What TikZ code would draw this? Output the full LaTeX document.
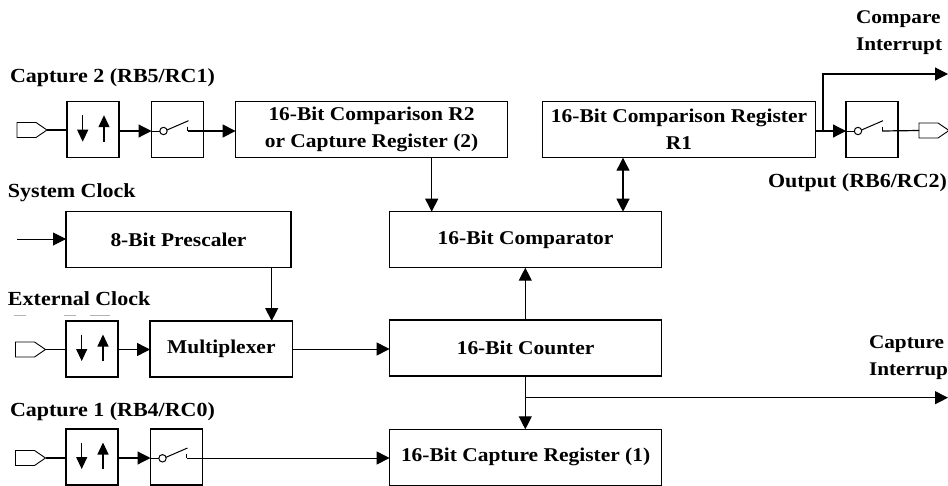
\documentclass[tikz,border=0pt]{standalone}
\usepackage{fontspec}
\setmainfont[FakeStretch=1.1]{Liberation Serif}
\usetikzlibrary{arrows.meta}
\tikzset{
  box/.style={draw=black,line width=1.4pt,inner sep=0pt,outer sep=0pt,align=center,
    font=\fontsize{19.5}{27}\selectfont\bfseries,minimum height=56pt},
  lbl/.style={inner sep=0pt,outer sep=0pt,anchor=base west,font=\fontsize{20}{27}\selectfont\bfseries},
  lblr/.style={lbl,font=\fontsize{19.3}{27}\selectfont\bfseries},
  wire/.style={line width=1.2pt,color=black},
  arr/.style={wire,-{Triangle[length=13pt,width=13pt]}},
  darr/.style={wire,{Triangle[length=13pt,width=13pt]}-{Triangle[length=13pt,width=13pt]}},
  port/.style={line width=0.9pt,draw=black,fill=white}
}
\newcommand{\edgearrows}[1]{%
  \draw[line width=1.2pt,-{Triangle[length=12pt,width=11pt]}] ([xshift=-10.3pt,yshift=14.5pt]#1.center) -- ([xshift=-10.3pt,yshift=-12pt]#1.center);
  \draw[line width=1.2pt,-{Triangle[length=12pt,width=11pt]}] ([xshift=11pt,yshift=-12pt]#1.center) -- ([xshift=11pt,yshift=14.5pt]#1.center);
}
\newcommand{\switchsym}[1]{%
  \draw[wire,line width=1pt] ([xshift=-10.5pt,yshift=-0.3pt]#1.center) -- ([xshift=11pt,yshift=9pt]#1.center);
  \draw[wire,line width=1pt] ([xshift=10pt,yshift=3pt]#1.center) -- ([xshift=10pt,yshift=-1.3pt]#1.center);
  \draw[wire,line width=1pt,fill=white] ([xshift=-14pt,yshift=-1.3pt]#1.center) circle[radius=3.7pt];
}
\newcommand{\portshape}[3]{% name, left x, center y
  \draw[port] (#2,#3-7.5) -- (#2+19,#3-7.5) -- (#2+30,#3) -- (#2+19,#3+7.5) -- (#2,#3+7.5) -- cycle;
  \coordinate (#1) at (#2,#3);
  \coordinate (#1t) at (#2+30,#3);
}
\begin{document}
\begin{tikzpicture}[x=1pt,y=-1pt]
\useasboundingbox (0,0) rectangle (948,485);
\clip (0,0) rectangle (948,485);
% texts
\node[lbl] at (10,82) {Capture 2 (RB5/RC1)};
\node[lbl] at (8,197) {System Clock};
\node[lbl] at (8,305) {External Clock};
\node[lbl] at (10,416) {Capture 1 (RB4/RC0)};
\node[lblr] at (856,23) {Compare};
\node[lblr] at (856,50) {Interrupt};
\node[lbl] at (768,187) {Output (RB6/RC2)};
\node[lblr] at (869,348) {Capture};
\node[lblr] at (869,375) {Interrup};
% boxes
\node[box,minimum width=52pt] (e1) at (93,129.7) {};
\node[box,minimum width=52pt] (s1) at (177.5,129.7) {};
\node[box,minimum width=272pt] (r2) at (371.6,129.7) {16-Bit Comparison R2\\or Capture Register (2)};
\node[box,minimum width=272.6pt] (r1) at (679,129.7) {16-Bit Comparison Register\\R1};
\node[box,minimum width=52pt] (s2) at (872,129.7) {};
\node[box,minimum width=225pt] (pre) at (178.5,239.7) {8-Bit Prescaler};
\node[box,minimum width=272pt] (cmp) at (525.6,239.7) {16-Bit Comparator};
\node[box,minimum width=52pt] (e2) at (92,349) {};
\node[box,minimum width=142.5pt] (mux) at (221.3,349) {Multiplexer};
\node[box,minimum width=272pt] (cnt) at (525.6,348) {16-Bit Counter};
\node[box,minimum width=52pt] (e3) at (92,457) {};
\node[box,minimum width=52pt] (s3) at (176.5,457) {};
\node[box,minimum width=272pt] (cap) at (525.6,457.3) {16-Bit Capture Register (1)};
% ports
\portshape{p1}{17}{130}
\portshape{p2}{15.5}{349.5}
\portshape{p3}{15.5}{458}
\portshape{p4}{919}{130.5}
\coordinate (sysin) at (17,239);
\coordinate (cmpout) at (948,74);
\coordinate (capout) at (948,397.7);
\coordinate (capbr) at (525.3,397.7);
\coordinate (cmpbr) at (823,131);
\coordinate (x431) at (431.7,0);
\coordinate (x623) at (623,0);
\coordinate (x272) at (271.7,0);
\coordinate (x525) at (525.3,0);
% symbols
\edgearrows{e1}\edgearrows{e2}\edgearrows{e3}
% connectors
\draw[wire] (p1t) -- (e1.west |- p1t);
\draw[arr] (e1.east |- 0,131) -- (s1.west |- 0,131);
\draw[wire,line width=1pt] (s1.west |- 0,131) -- ([xshift=-14pt,yshift=-1.3pt]s1.center);
\draw[arr] ([xshift=10pt,yshift=-1.3pt]s1.center) -- (r2.west |- 0,131);
\draw[wire] (r1.east |- cmpbr) -- (cmpbr);
\draw[arr] (cmpbr) -- (s2.west |- cmpbr);
\draw[wire,line width=1pt] (s2.west |- cmpbr) -- ([xshift=-14pt,yshift=-1.3pt]s2.center);
\draw[wire] ([xshift=10pt,yshift=-1.3pt]s2.center) -- (p4);
\draw[arr] (cmpbr) -- (cmpbr |- cmpout) -- (cmpout);
\draw[arr] (r2.south -| x431) -- (cmp.north -| x431);
\draw[darr] (r1.south -| x623) -- (cmp.north -| x623);
\draw[arr,line width=1pt] (sysin) -- (pre.west |- sysin);
\draw[arr] (pre.south -| x272) -- (mux.north -| x272);
\draw[wire] (p2t) -- (e2.west |- p2t);
\draw[arr] (e2.east |- p2t) -- (mux.west |- p2t);
\draw[arr,line width=1pt] (mux.east |- 0,349) -- (cnt.west |- 0,349);
\draw[arr] (cnt.north -| x525) -- (cmp.south -| x525);
\draw[arr] (cnt.south -| x525) -- (cap.north -| x525);
\draw[arr,line width=1pt] (capbr) -- (capout);
\draw[wire] (p3t) -- (e3.west |- p3t);
\draw[arr] (e3.east |- p3t) -- (s3.west |- p3t);
\draw[wire,line width=1pt] (s3.west |- p3t) -- ([xshift=-14pt,yshift=-1pt]s3.center);
\draw[arr,line width=1pt] ([xshift=10pt,yshift=-1pt]s3.center) -- (cap.west |- p3t);
\switchsym{s1}\switchsym{s2}\switchsym{s3}
% clipped remains of a cut-off line
\draw[black!30,line width=0.7pt] (14,315) -- (26,315) (64,315) -- (76,315) (90,315) -- (110,315);
\end{tikzpicture}
\end{document}
